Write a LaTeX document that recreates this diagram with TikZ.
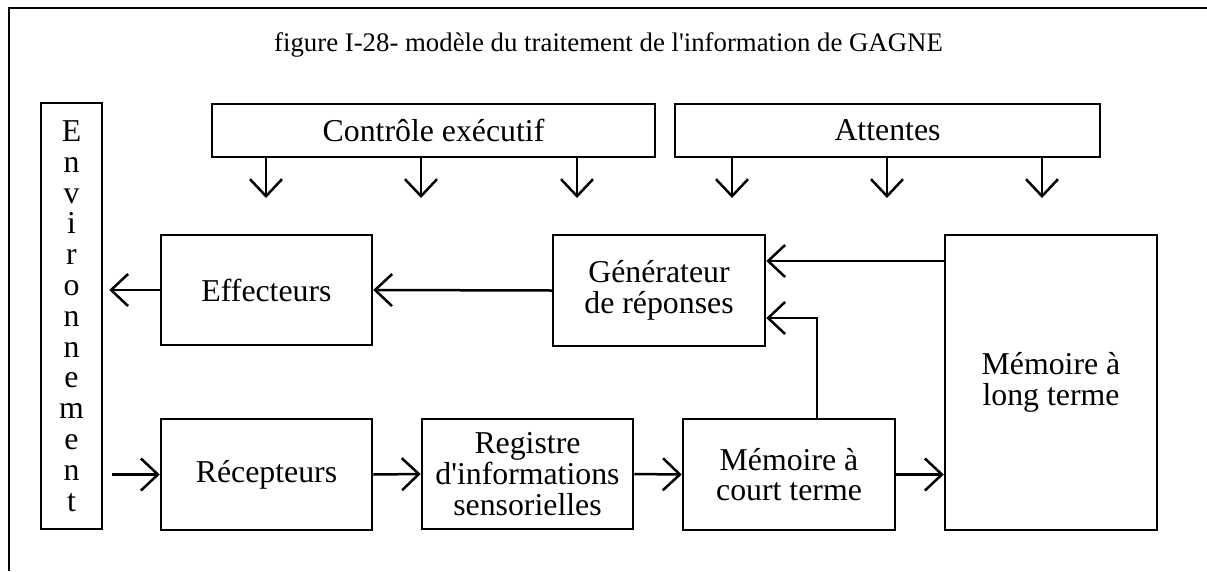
\documentclass[tikz,border=0pt]{standalone}
\usepackage{fontspec}
\setmainfont{Liberation Serif}[Ligatures=TeXOff]
\usetikzlibrary{arrows.meta}
\begin{document}
\begin{tikzpicture}[x=1pt,y=-1pt,line width=2.5pt,
  box/.style={draw,line width=2.5pt,inner sep=0pt,align=center,
    font=\fontsize{31.8}{30.8}\selectfont},
  flow/.style={-{Straight Barb[length=17pt,width=32pt]},line width=2.5pt}]
\useasboundingbox (0,0) rectangle (1207,571);
% page frame (open on the right and bottom)
\coordinate (fTR) at (1207,8);
\coordinate (fTL) at (9,8);
\coordinate (fBL) at (9,571);
\draw (fTR) -- (fTL) -- (fBL);
% caption
\node[anchor=base,font=\fontsize{26.8}{30}\selectfont] (title) at (608.5,51)
  {figure I-28- modèle du traitement de l'information de GAGNE};
% blocks
\node[box,minimum width=61pt,minimum height=426pt] (env) at (71.5,316)
  {E\\n\\v\\i\\r\\o\\n\\n\\e\\m\\e\\n\\t};
\node[box,minimum width=443pt,minimum height=53pt] (ctrl) at (433.5,130.5) {Contrôle exécutif};
\node[box,minimum width=425pt,minimum height=53pt] (att) at (887.5,130.5) {Attentes};
\node[box,minimum width=211pt,minimum height=110pt] (eff) at (266.5,290) {Effecteurs};
\node[box,minimum width=212pt,minimum height=111pt] (gen) at (659,290.5) {Générateur\\de réponses};
\node[box,minimum width=212pt,minimum height=295pt] (mlt) at (1051,382.5) {Mémoire à\\long terme};
\node[box,minimum width=211pt,minimum height=111pt] (rec) at (266.5,474.5) {Récepteurs};
\node[box,minimum width=211pt,minimum height=110pt] (reg) at (527.5,474) {Registre\\d'informations\\sensorielles};
\node[box,minimum width=212pt,minimum height=111pt] (mct) at (789,474.5) {Mémoire à\\court terme};
% control arrows pointing down
\foreach \x in {266,421,577} \draw[flow] (ctrl.south -| \x,0) -- (\x,198);
\foreach \x in {732,887,1042} \draw[flow] (att.south -| \x,0) -- (\x,198);
% response path
\draw[flow] (gen.west) -- (eff.east);
\draw[flow] (eff.west) -- ([xshift=6pt]eff.west -| env.east);
% input path
\coordinate (envOut) at ([xshift=9pt]env.east |- rec.west);
\draw[flow] (envOut) -- (rec.west);
\draw[flow] (rec.east) -- (reg.west);
\draw[flow] (reg.east) -- (mct.west);
\draw[flow] (mct.east) -- (mct.east -| mlt.west);
% memories feeding the response generator
\coordinate (mltOut) at (mlt.west |- 0,261);
\draw[flow] (mltOut) -- (mltOut -| gen.east);
\coordinate (bend) at (817,318);
\draw[flow] (mct.north -| bend) -- (bend) -- (bend -| gen.east);
\end{tikzpicture}
\end{document}
